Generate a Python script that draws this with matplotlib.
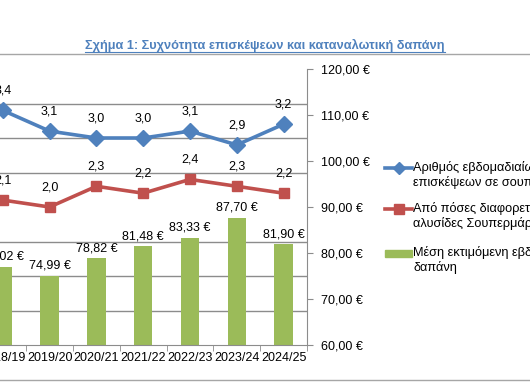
import matplotlib
matplotlib.use("Agg")
import matplotlib.pyplot as plt
from matplotlib.lines import Line2D
from matplotlib.patches import Rectangle
from matplotlib.ticker import MultipleLocator, FixedLocator

plt.rcParams['font.family'] = ['Liberation Sans', 'DejaVu Sans']

# data
years = ['2018/19', '2019/20', '2020/21', '2021/22', '2022/23', '2023/24', '2024/25']
weekly_visits = [3.4, 3.1, 3.0, 3.0, 3.1, 2.9, 3.2]
chains = [2.1, 2.0, 2.3, 2.2, 2.4, 2.3, 2.2]
spend = [77.02, 74.99, 78.82, 81.48, 83.33, 87.70, 81.90]
spend_ticks = [60, 70, 80, 90, 100, 110, 120]

legend_labels = [
    'Αριθμός εβδομαδιαίων\nεπισκέψεων σε σουπερμάρκετ',
    'Από πόσες διαφορετικές\nαλυσίδες Σουπερμάρκετ',
    'Μέση εκτιμόμενη εβδομαδιαία\nδαπάνη',
]
title = 'Σχήμα 1: Συχνότητα επισκέψεων και καταναλωτική δαπάνη'

blue = '#4f81bd'
red = '#c0504d'
green = '#9bbb59'
grid_col = '#8c8c8c'
W, H = 530, 387

fig = plt.figure(figsize=(W / 100, H / 100), dpi=100)

# plot area: left edge falls outside the figure (cropped original)
left_px, right_px, top_px, bot_px = -20.6, 307, 69, 345
ax = fig.add_axes([left_px / W, 1 - bot_px / H,
                   (right_px - left_px) / W, (bot_px - top_px) / H])
# lines on the count scale (left side, cut off)
ax2 = ax.twinx()

x = list(range(len(years)))

# bars on the euro scale (right side)
ax.bar(x, spend, width=0.39, color=green, zorder=2)
ax.set_ylim(60, 120)
ax.set_xlim(-0.5, len(years) - 0.5)
ax.yaxis.tick_right()
ax.yaxis.set_major_locator(FixedLocator(spend_ticks))
ax.set_yticklabels([f'{v:.2f} €'.replace('.', ',') for v in spend_ticks])
ax.yaxis.set_minor_locator(MultipleLocator(7.5))
ax.grid(which='minor', axis='y', color=grid_col, linewidth=1, zorder=0)
ax.tick_params(axis='y', which='minor', length=0, right=False, left=False)
ax.tick_params(axis='y', which='major', length=4, color=grid_col, labelsize=9,
               pad=6, direction='out', right=True, labelright=True,
               left=False, labelleft=False)
for s in ['top', 'left']:
    ax.spines[s].set_visible(False)
for s in ['right', 'bottom']:
    ax.spines[s].set_color(grid_col)
ax.set_xticks(x)
ax.set_xticklabels(years)
ax.xaxis.set_minor_locator(FixedLocator([i + 0.5 for i in x]))
ax.tick_params(axis='x', which='major', length=0, labelsize=9, pad=5)
ax.tick_params(axis='x', which='minor', length=4, color=grid_col)

for xi, v in zip(x, spend):
    ax.annotate(f'{v:.2f} €'.replace('.', ','), (xi, v), xytext=(0, 3),
                textcoords='offset points', ha='center', va='bottom', fontsize=9)

ax2.set_ylim(0, 4)
ax2.set_yticks([])
for s in ax2.spines.values():
    s.set_visible(False)
ax2.plot(x, weekly_visits, color=blue, lw=2.6, marker='D', ms=8, zorder=3)
ax2.plot(x, chains, color=red, lw=2.6, marker='s', ms=7.5, zorder=3)
for series in (weekly_visits, chains):
    for xi, v in zip(x, series):
        ax2.annotate(f'{v:.1f}'.replace('.', ','), (xi, v), xytext=(0, 10),
                     textcoords='offset points', ha='center', va='bottom', fontsize=9)

# legend, Excel style: key level with the first text line
def fx(px):
    return px / W


def fy(py):
    return 1 - py / H


legend_rows = [168, 209, 253]
for i, (label, y) in enumerate(zip(legend_labels, legend_rows)):
    if i < 2:
        fig.add_artist(Line2D([fx(385), fx(412)], [fy(y)] * 2,
                              color=[blue, red][i], lw=2.6,
                              transform=fig.transFigure))
        fig.add_artist(Line2D([fx(398.5)], [fy(y)], marker=['D', 's'][i],
                              ms=6.5, color=[blue, red][i],
                              transform=fig.transFigure))
    else:
        fig.add_artist(Rectangle((fx(385), fy(y + 3.5)), fx(27), 7 / H,
                                 color=green, transform=fig.transFigure))
    fig.text(fx(413), fy(y - 7), label, ha='left', va='top', fontsize=9.2,
             linespacing=1.2)

# title and frame lines
t = fig.text(265 / W, 1 - 45.5 / H, title, ha='center', va='center',
             fontsize=9.2, fontweight='bold', color=blue)
fig.canvas.draw()
bb = t.get_window_extent().transformed(fig.transFigure.inverted())
fig.add_artist(Line2D([bb.x0, bb.x1], [1 - 51.5 / H] * 2, color=blue, lw=0.8,
                      transform=fig.transFigure))
for y in (54, 380):
    fig.add_artist(Line2D([0, 1], [1 - y / H] * 2, color='#a6a6a6', lw=1,
                          transform=fig.transFigure))

fig.savefig('out.png', dpi=100)
